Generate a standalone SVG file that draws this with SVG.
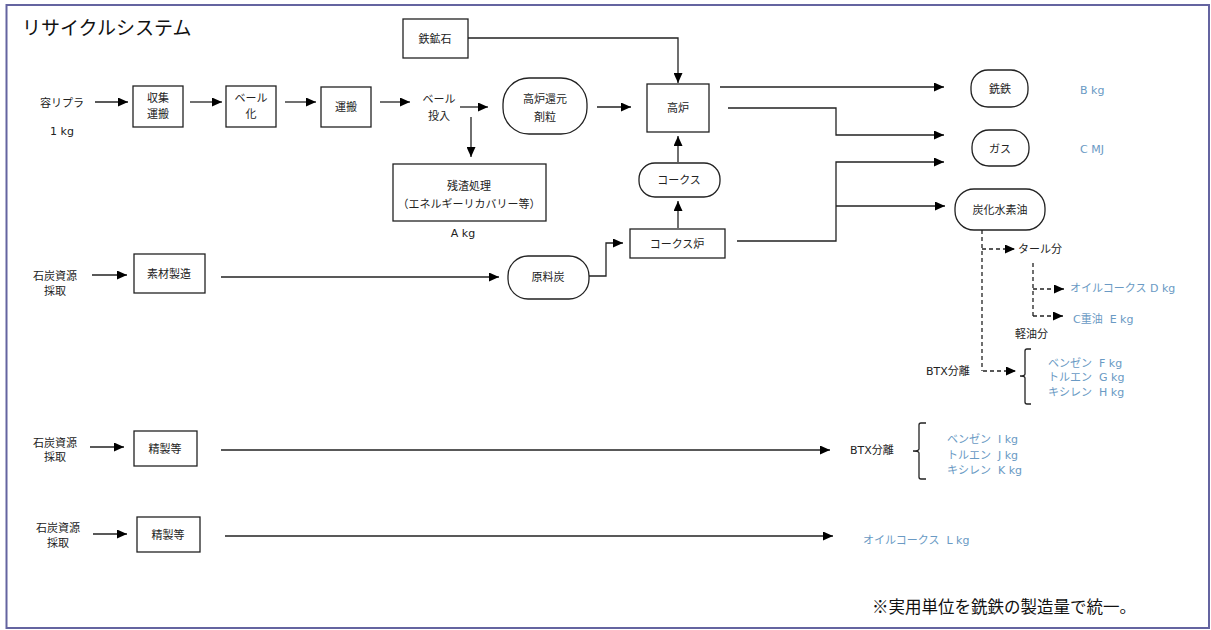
<svg xmlns="http://www.w3.org/2000/svg" width="1211" height="630" viewBox="0 0 1211 630" xml:space="preserve">
<defs>
<marker id="ah" markerUnits="userSpaceOnUse" markerWidth="10" markerHeight="9" refX="10" refY="4.5" orient="auto">
<path d="M0,0 L10,4.5 L0,9 z" fill="#000"/>
</marker>
<style>
text{white-space:pre}
.ln{fill:none;stroke:#222;stroke-width:1.3}
.ar{fill:none;stroke:#222;stroke-width:1.3;marker-end:url(#ah)}
.da{fill:none;stroke:#222;stroke-width:1.3;stroke-dasharray:4,3;marker-end:url(#ah)}
.dl{fill:none;stroke:#222;stroke-width:1.3;stroke-dasharray:4,3}
.bx{fill:#fff;stroke:#222;stroke-width:1.3}
.t{font-family:"DejaVu Sans","Noto Sans CJK JP",sans-serif;font-size:11px;fill:#222;text-anchor:middle;dominant-baseline:central}
.tl{font-family:"DejaVu Sans","Noto Sans CJK JP",sans-serif;font-size:11px;fill:#222;dominant-baseline:central}
.b{font-family:"DejaVu Sans","Noto Sans CJK JP",sans-serif;font-size:11px;fill:#6a9ac4;dominant-baseline:central}
</style>
</defs>
<rect x="0" y="0" width="1211" height="630" fill="#fff"/>
<rect x="6.5" y="5" width="1202.5" height="623" fill="#fff" stroke="#6464a0" stroke-width="2"/>
<text x="22" y="35" font-family="'Noto Sans CJK JP',sans-serif" font-size="19" fill="#111">リサイクルシステム</text>
<g id="connectors">
<path class="ar" d="M95,102 H128"/>
<path class="ar" d="M190,102 H222"/>
<path class="ar" d="M285,102 H316"/>
<path class="ar" d="M380,102 H410"/>
<path class="ar" d="M460,107 H488"/>
<path class="ar" d="M471,117 V157"/>
<path class="ar" d="M597,107 H631"/>
<path class="ar" d="M468,38 H678 V83"/>
<path class="ar" d="M720,87 H944"/>
<path class="ar" d="M728,108 H836 V135 H944"/>
<path class="ar" d="M678,162 V136"/>
<path class="ar" d="M678,228 V201"/>
<path class="ar" d="M737,241 H836 V162 H944"/>
<path class="ar" d="M836,206 H945"/>
<path class="ar" d="M589,276 H606 V243 H623"/>
<path class="ar" d="M92,275 H127"/>
<path class="ar" d="M221,277 H499"/>
<path class="dl" d="M982,230 V371"/>
<path class="da" d="M982,249 H1015"/>
<path class="dl" d="M1033,263 V316"/>
<path class="da" d="M1033,289 H1064"/>
<path class="da" d="M1033,316 H1063"/>
<path class="da" d="M983,371 H1016"/>
<path class="ln" d="M1031,349 H1027 Q1025,349 1025,351 V374 Q1025,376 1020,376 Q1025,376 1025,378 V402 Q1025,404 1027,404 H1031"/>
<path class="ar" d="M90,447 H124"/>
<path class="ar" d="M221,450 H830"/>
<path class="ln" d="M926,423 H921 Q919,423 919,425 V449 Q919,451 913,451 Q919,451 919,453 V477 Q919,479 921,479 H926"/>
<path class="ar" d="M93,534 H127"/>
<path class="ar" d="M225,536 H833"/>
</g>
<g id="n-yoripura"><text class="t" x="62" y="103">容リプラ</text><text class="t" x="62" y="131">1 kg</text></g>
<g id="n-shushu"><rect class="bx" x="133" y="86" width="50" height="41"/><text class="t" x="158" y="98">収集</text><text class="t" x="158" y="114">運搬</text></g>
<g id="n-bale"><rect class="bx" x="226" y="86" width="50" height="41"/><text class="t" x="251" y="98">ベール</text><text class="t" x="251" y="114">化</text></g>
<g id="n-unpan"><rect class="bx" x="321" y="87" width="50" height="40"/><text class="t" x="346" y="107">運搬</text></g>
<g id="n-baletounyu"><text class="t" x="439" y="99">ベール</text><text class="t" x="439" y="116">投入</text></g>
<g id="n-kangen"><rect class="bx" x="503" y="78" width="84" height="56" rx="26"/><text class="t" x="545" y="99">高炉還元</text><text class="t" x="545" y="117">剤粒</text></g>
<g id="n-tekkou"><rect class="bx" x="403" y="19" width="65" height="39"/><text class="t" x="435" y="39">鉄鉱石</text></g>
<g id="n-koro"><rect class="bx" x="647" y="84" width="62" height="48"/><text class="t" x="678" y="108">高炉</text></g>
<g id="n-zansa"><rect class="bx" x="393" y="164" width="153" height="57"/><text class="t" x="469" y="186">残渣処理</text><text class="t" x="469" y="204" font-size="10.5">（エネルギーリカバリー等）</text><text class="t" x="463" y="233">A kg</text></g>
<g id="n-coke"><rect class="bx" x="639" y="163" width="81" height="34" rx="16"/><text class="t" x="679" y="180">コークス</text></g>
<g id="n-cokero"><rect class="bx" x="630" y="229" width="95" height="29"/><text class="t" x="677" y="244">コークス炉</text></g>
<g id="n-genryo"><rect class="bx" x="508" y="256" width="81" height="43" rx="20"/><text class="t" x="548" y="277">原料炭</text></g>
<g id="n-sekitan1"><text class="t" x="55" y="276">石炭資源</text><text class="t" x="55" y="291">採取</text></g>
<g id="n-sozai"><rect class="bx" x="134" y="254" width="71" height="39"/><text class="t" x="169" y="274">素材製造</text></g>
<g id="n-sentetsu"><rect class="bx" x="971" y="70" width="57" height="37" rx="17"/><text class="t" x="1000" y="89">銑鉄</text><text class="b" x="1080" y="90">B kg</text></g>
<g id="n-gas"><rect class="bx" x="972" y="130" width="57" height="36" rx="17"/><text class="t" x="1000" y="149">ガス</text><text class="b" x="1080" y="149">C MJ</text></g>
<g id="n-tanka"><rect class="bx" x="955" y="189" width="90" height="41" rx="19"/><text class="t" x="1000" y="210">炭化水素油</text></g>
<g id="n-tar"><text class="tl" x="1018" y="249">タール分</text></g>
<g id="n-oilcoke1"><text class="b" x="1070" y="288">オイルコークス D kg</text></g>
<g id="n-cjuyu"><text class="b" x="1073" y="319">C重油  E kg</text></g>
<g id="n-keiyu"><text class="tl" x="1015" y="334">軽油分</text></g>
<g id="n-btx1"><text class="tl" x="926" y="371">BTX分離</text></g>
<g id="n-btx1-out"><text class="b" x="1048" y="363">ベンゼン  F kg</text><text class="b" x="1048" y="377">トルエン  G kg</text><text class="b" x="1048" y="392">キシレン  H kg</text></g>
<g id="n-sekitan2"><text class="t" x="55" y="443">石炭資源</text><text class="t" x="55" y="457">採取</text></g>
<g id="n-seisei1"><rect class="bx" x="134" y="431" width="63" height="35"/><text class="t" x="165" y="449">精製等</text></g>
<g id="n-btx2"><text class="tl" x="850" y="450">BTX分離</text></g>
<g id="n-btx2-out"><text class="b" x="947" y="439">ベンゼン  I kg</text><text class="b" x="947" y="455">トルエン  J kg</text><text class="b" x="947" y="470">キシレン  K kg</text></g>
<g id="n-sekitan3"><text class="t" x="58" y="528">石炭資源</text><text class="t" x="58" y="543">採取</text></g>
<g id="n-seisei2"><rect class="bx" x="137" y="517" width="63" height="35"/><text class="t" x="168" y="535">精製等</text></g>
<g id="n-oilcoke2"><text class="b" x="863" y="540">オイルコークス  L kg</text></g>
<text x="872" y="613" font-family="'Noto Sans CJK JP',sans-serif" font-size="16.5" fill="#111">※実用単位を銑鉄の製造量で統一。</text>
</svg>
